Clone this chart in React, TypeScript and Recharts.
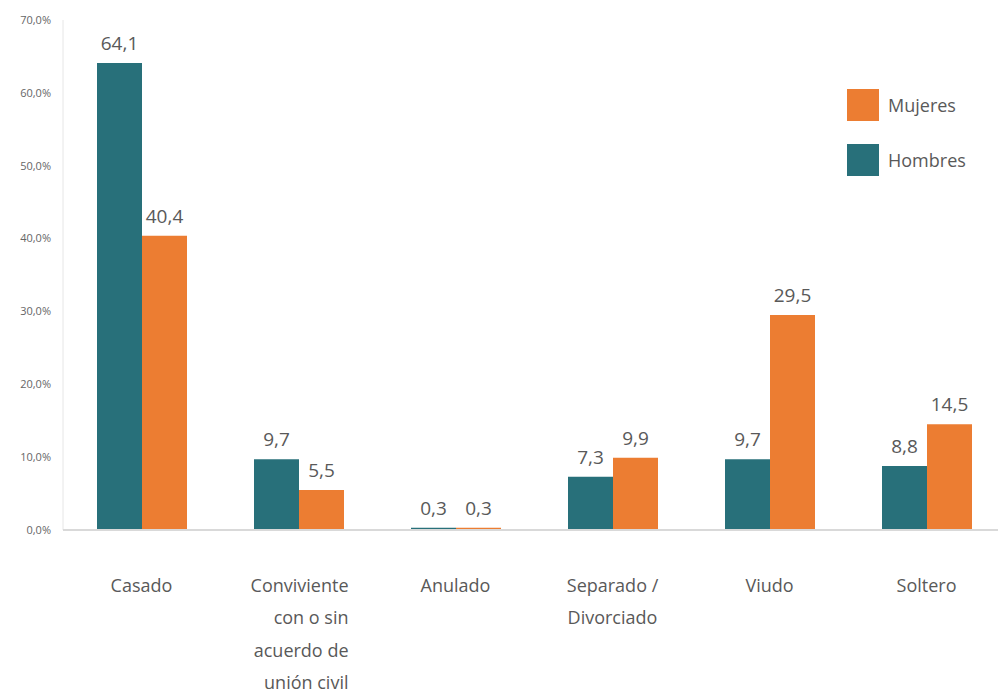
import React from 'react';
import { BarChart, Bar, XAxis, YAxis, LabelList } from 'recharts';

const categories = [
  'Casado',
  'Conviviente con o sin acuerdo de unión civil',
  'Anulado',
  'Separado / Divorciado',
  'Viudo',
  'Soltero',
];

const categoryLines = [
  ['Casado'],
  ['Conviviente', 'con o sin', 'acuerdo de', 'unión civil'],
  ['Anulado'],
  ['Separado /', 'Divorciado'],
  ['Viudo'],
  ['Soltero'],
];

const hombres = [64.1, 9.7, 0.3, 7.3, 9.7, 8.8];
const mujeres = [40.4, 5.5, 0.3, 9.9, 29.5, 14.5];

const yTicks = [0, 10, 20, 30, 40, 50, 60, 70];

const TEAL = '#28707A';
const ORANGE = '#EC7D32';
const TEXT = '#595959';
const FONT = '"Open Sans", sans-serif';

const data = categories.map((name, i) => ({
  name,
  Hombres: hombres[i],
  Mujeres: mujeres[i],
}));

const fmt = (v: number) => v.toFixed(1).replace('.', ',');

// wrapped labels (4 lines) sit right-aligned in the original
const CategoryTick = (props: any) => {
  const { x, y, index } = props;
  const lines = categoryLines[index] || [];
  const right = lines.length > 2;
  const tx = right ? x + 50 : x;
  return (
    <text x={tx} y={y} textAnchor={right ? 'end' : 'middle'} fill={TEXT} fontSize={18} fontFamily={FONT}>
      {lines.map((l, i) => (
        <tspan key={i} x={tx} y={y + 62 + i * 32.3}>
          {l}
        </tspan>
      ))}
    </text>
  );
};

// legend order as in the picture: Mujeres on top
const legendItems = [
  { label: 'Mujeres', color: ORANGE },
  { label: 'Hombres', color: TEAL },
];

export default function App() {
  return (
    <div style={{ position: 'absolute', left: 0, top: 0, width: 998, height: 695, overflow: 'hidden', background: '#fff' }}>
      <BarChart
        width={1005}
        height={695}
        data={data}
        margin={{ top: 20, right: 0, left: 0, bottom: 0 }}
        barCategoryGap={34}
        barGap={0}
      >
        <YAxis
          domain={[0, 70]}
          ticks={yTicks}
          width={63}
          tickFormatter={(v: number) => fmt(v) + '%'}
          tickSize={0}
          tickMargin={12}
          axisLine={{ stroke: '#e6e6e6' }}
          tick={{ fill: '#666', fontSize: 11, fontFamily: FONT }}
        />
        <XAxis
          dataKey="name"
          height={165}
          interval={0}
          tickSize={0}
          tickMargin={0}
          axisLine={{ stroke: '#d9d9d9', strokeWidth: 2 }}
          tick={<CategoryTick />}
        />
        <Bar dataKey="Hombres" fill={TEAL} isAnimationActive={false}>
          <LabelList
            dataKey="Hombres"
            position="top"
            offset={13}
            formatter={(v: any) => fmt(Number(v))}
            style={{ fill: TEXT, fontSize: 19, fontFamily: FONT }}
          />
        </Bar>
        <Bar dataKey="Mujeres" fill={ORANGE} isAnimationActive={false}>
          <LabelList
            dataKey="Mujeres"
            position="top"
            offset={13}
            formatter={(v: any) => fmt(Number(v))}
            style={{ fill: TEXT, fontSize: 19, fontFamily: FONT }}
          />
        </Bar>
      </BarChart>
      <div style={{ position: 'absolute', left: 847, top: 89, fontFamily: FONT }}>
        {legendItems.map((it) => (
          <div key={it.label} style={{ display: 'flex', alignItems: 'center', height: 32, marginBottom: 23 }}>
            <div style={{ width: 32, height: 32, background: it.color }} />
            <span style={{ marginLeft: 9, fontSize: 18, color: TEXT }}>{it.label}</span>
          </div>
        ))}
      </div>
    </div>
  );
}
